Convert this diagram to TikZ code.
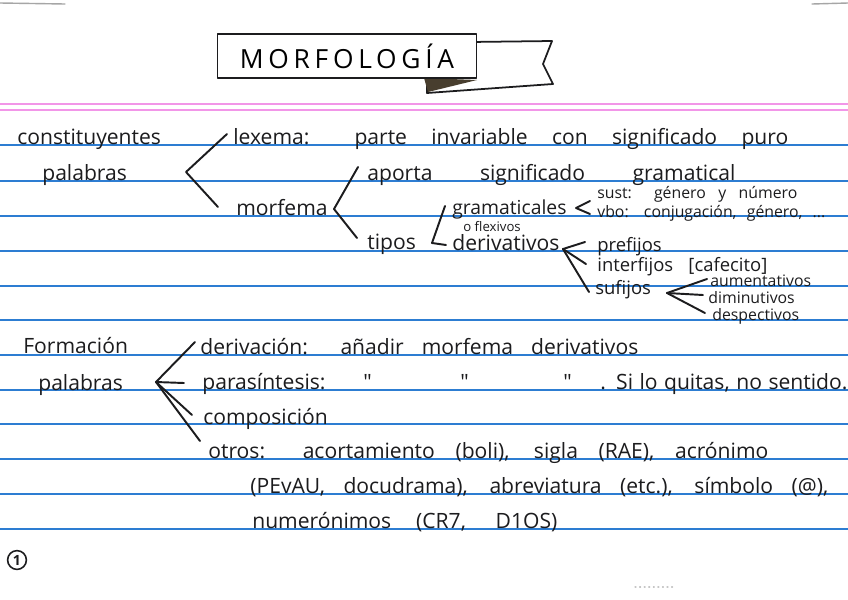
\documentclass[tikz,border=0pt]{standalone}
\usepackage{fontspec}
\setmainfont{Open Sans}
\usetikzlibrary{calc}
\definecolor{ink}{RGB}{28,28,30}
\definecolor{rulecol}{RGB}{45,125,210}
\definecolor{margincol}{RGB}{242,150,232}
\definecolor{foldcol}{RGB}{72,62,46}
\newlength{\pxu}\setlength{\pxu}{0.02cm}
\newcommand{\spread}[2]{\makebox[#1\pxu][s]{#2}}

\begin{document}
\begin{tikzpicture}[x=0.02cm, y=-0.02cm, font=\fontsize{12}{14}\selectfont,
                    line cap=round, line join=round]
  \tikzset{txt/.style={anchor=base west, inner sep=0pt, text=ink},
           med/.style={txt, font=\fontsize{10.5}{12}\selectfont},
           sml/.style={txt, font=\fontsize{9}{10}\selectfont},
           brc/.style={draw=ink, line width=1.1pt}}
  \useasboundingbox (0,0) rectangle (848,599);
  \fill[white] (0,0) rectangle (848,599);
  % ruled paper
  \foreach \y in {145,181,216,251,286,320,355,390,424,459,494,529}
    \draw[rulecol, line width=1pt] (0,\y) -- (848,\y);
  \draw[margincol, line width=1.3pt] (0,104) -- (848,104) (0,110) -- (848,110);
  \draw[gray!70, line width=0.8pt] (0,3) -- (65,4) (812,4) -- (848,3);
  \draw[gray!45, line width=0.6pt, dotted] (635,587) -- (675,587);

  % title banner
  \draw[ink, line width=1pt, fill=white]
    (470,42) -- (552,41) -- (543,64) -- (553,84) -- (427,93) -- (427,80) -- cycle;
  \fill[foldcol] (424,78) -- (477,80) -- (428,92) -- cycle;
  \node[draw=ink, line width=1pt, fill=white, minimum width=259\pxu,
        minimum height=44\pxu, inner sep=0pt,
        font=\fontsize{15}{15}\selectfont\addfontfeature{LetterSpace=18}]
        (title) at (347,56) {MORFOLOGÍA};

  % constituyentes
  \node[txt] (const) at (17,144) {constituyentes};
  \node[txt] (pal1) at (42,180) {palabras};
  \node[txt] (lexema) at (233,144) {\spread{555}{lexema: parte invariable con significado puro}};
  \node[txt] (aporta) at (367,180) {\spread{368}{aporta significado gramatical}};
  \node[txt] (morfema) at (236,215) {morfema};
  \node[txt] (tipos) at (367,249) {tipos};
  \node[txt, font=\fontsize{11}{13}\selectfont] (gram) at (452,214) {gramaticales};
  \node[txt, font=\fontsize{7.5}{9}\selectfont] (flex) at (463,231) {o flexivos};
  \node[txt] (deriv) at (452,250) {derivativos};
  \node[sml] (sust) at (597,198) {\spread{200}{sust: género y número}};
  \node[sml] (vbo) at (597,217) {\spread{228}{vbo: conjugación, género, ...}};
  \node[med] (pref) at (597,251) {prefijos};
  \node[med] (inter) at (597,271) {\spread{170}{interfijos [cafecito]}};
  \node[med] (suf) at (595,294) {sufijos};
  \node[sml] (aum) at (710,286) {aumentativos};
  \node[sml] (dim) at (708,303) {diminutivos};
  \node[sml] (desp) at (712,320) {despectivos};

  \coordinate (v1) at (186,172);
  \coordinate (v2) at (334,209);
  \coordinate (vt) at (432,243);
  \coordinate (vg) at (576,208);
  \coordinate (vd) at (563,249);
  \coordinate (vs) at (667,293);
  \draw[brc] ($(lexema.base west)+(-6,-10)$) -- (v1) -- ($(morfema.base west)+(-18,-8)$);
  \draw[brc] ($(aporta.base west)+(-9,-13)$) -- (v2) -- ($(tipos.base west)+(-10,-11)$);
  \draw[brc] ($(gram.base west)+(-7,-8)$) -- (vt) -- ($(deriv.base west)+(-6,-5)$);
  \draw[brc] ($(sust.base west)+(-7,3)$) -- (vg) -- ($(vbo.base west)+(-7,-3)$);
  \draw[brc] ($(pref.base west)+(-12,-9)$) -- (vd);
  \draw[brc] ($(inter.base west)+(-11,-7)$) -- (vd);
  \draw[brc] ($(suf.base west)+(-6,-2)$) -- (vd);
  \draw[brc] ($(aum.base west)+(-3,-7)$) -- (vs);
  \draw[brc] ($(dim.base west)+(-5,-8)$) -- (vs);
  \draw[brc] ($(desp.base west)+(-7,-7)$) -- (vs);

  % formacion de palabras
  \node[txt] (form) at (23,353) {Formación};
  \node[txt] (pal2) at (38,390) {palabras};
  \node[txt] (derivac) at (200,354) {\spread{438}{derivación: añadir morfema derivativos}};
  \node[txt] (paras) at (202,389) {parasíntesis:};
  \node[txt] (dit1) at (363,389) {\textquotedbl};
  \node[txt] (dit2) at (460,389) {\textquotedbl};
  \node[txt] (dit3) at (563,389) {\textquotedbl};
  \node[txt] (sent) at (600,389) {\spread{247}{. Si lo quitas, no sentido.}};
  \node[txt] (comp) at (203,424) {composición};
  \node[txt] (otros) at (208,458) {\spread{560}{otros: acortamiento (boli), sigla (RAE), acrónimo}};
  \node[txt] (pevau) at (250,493) {\spread{578}{(PEvAU, docudrama), abreviatura (etc.), símbolo (@),}};
  \node[txt] (numer) at (252,528) {\spread{305}{numerónimos (CR7, D1OS)}};

  \coordinate (v3) at (156,382);
  \draw[brc] ($(derivac.base west)+(-5,-12)$) -- (v3);
  \draw[brc] ($(paras.base west)+(-18,-6)$) -- (v3);
  \draw[brc] ($(comp.base west)+(-11,-9)$) -- (v3);
  \draw[brc] ($(otros.base west)+(-8,-17)$) -- (v3);

  \node[draw=ink, circle, line width=0.9pt, inner sep=1.2pt,
        font=\fontsize{8}{8}\selectfont\bfseries, text=ink] (pg) at (17,560) {1};
\end{tikzpicture}
\end{document}
